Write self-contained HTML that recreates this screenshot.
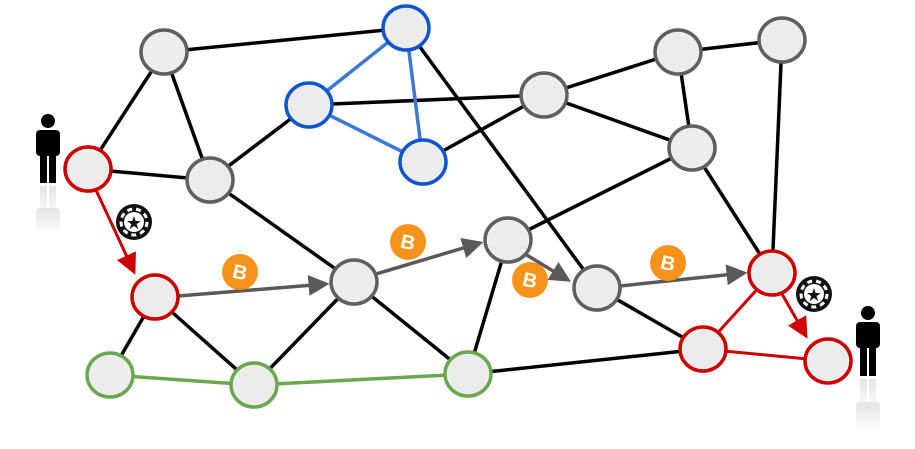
<!DOCTYPE html>
<html><head><style>body{margin:0;background:#fff}svg{display:block}</style></head><body>
<svg width="915" height="449" viewBox="0 0 915 449" xmlns="http://www.w3.org/2000/svg">
<defs>
<marker id="ag" markerWidth="6" markerHeight="6" refX="5" refY="3" orient="auto" markerUnits="strokeWidth"><path d="M0,0 L6,3 L0,6 z" fill="#595959"/></marker>
<marker id="ar" markerWidth="7" markerHeight="7" refX="6" refY="3.5" orient="auto" markerUnits="strokeWidth"><path d="M0,0 L7,3.5 L0,7 z" fill="#cc0000"/></marker>
<linearGradient id="refl" x1="0" y1="0" x2="0" y2="1"><stop offset="0" stop-color="#ddd"/><stop offset="1" stop-color="#fff"/></linearGradient>
</defs>
<g stroke="#000" stroke-width="3.5">
<line x1="164" y1="52" x2="406" y2="28"/>
<line x1="164" y1="52" x2="88" y2="169"/>
<line x1="164" y1="52" x2="210" y2="180"/>
<line x1="88" y1="169" x2="210" y2="180"/>
<line x1="210" y1="180" x2="309" y2="105"/>
<line x1="210" y1="180" x2="354" y2="282"/>
<line x1="406" y1="28" x2="597" y2="288"/>
<line x1="309" y1="105" x2="544" y2="95"/>
<line x1="423" y1="162" x2="544" y2="95"/>
<line x1="508" y1="240" x2="692" y2="148"/>
<line x1="544" y1="95" x2="678" y2="52"/>
<line x1="678" y1="52" x2="782" y2="40"/>
<line x1="544" y1="95" x2="692" y2="148"/>
<line x1="678" y1="52" x2="692" y2="148"/>
<line x1="782" y1="40" x2="772" y2="273"/>
<line x1="692" y1="148" x2="772" y2="273"/>
<line x1="155" y1="297" x2="110" y2="375"/>
<line x1="155" y1="297" x2="254" y2="385"/>
<line x1="354" y1="282" x2="254" y2="385"/>
<line x1="354" y1="282" x2="468" y2="374"/>
<line x1="508" y1="240" x2="468" y2="374"/>
<line x1="597" y1="288" x2="703" y2="349"/>
<line x1="703" y1="349" x2="468" y2="374"/>
</g>
<g stroke="#3a78d4" stroke-width="3.5">
<line x1="406" y1="28" x2="309" y2="105"/>
<line x1="406" y1="28" x2="423" y2="162"/>
<line x1="309" y1="105" x2="423" y2="162"/>
</g>
<g stroke="#6aa84f" stroke-width="3.5">
<line x1="110" y1="375" x2="254" y2="385"/>
<line x1="254" y1="385" x2="468" y2="374"/>
</g>
<g stroke="#cc0000" stroke-width="3">
<line x1="772" y1="273" x2="703" y2="349"/>
<line x1="703" y1="349" x2="828" y2="361"/>
<line x1="96" y1="190" x2="134" y2="272" marker-end="url(#ar)"/>
<line x1="782" y1="294" x2="806" y2="336" marker-end="url(#ar)"/>
</g>
<g stroke="#595959" stroke-width="3.5">
<line x1="178" y1="296" x2="326" y2="284" marker-end="url(#ag)"/>
<line x1="376" y1="274" x2="480" y2="243" marker-end="url(#ag)"/>
<line x1="525" y1="254" x2="568" y2="280" marker-end="url(#ag)"/>
<line x1="620" y1="286" x2="744" y2="273" marker-end="url(#ag)"/>
</g>
<g fill="#ececec" stroke-width="3.5">
<g stroke="#5f5f5f">
<ellipse cx="164" cy="52" rx="23" ry="22"/>
<ellipse cx="210" cy="180" rx="23" ry="22"/>
<ellipse cx="354" cy="282" rx="23" ry="22"/>
<ellipse cx="508" cy="240" rx="23" ry="22"/>
<ellipse cx="544" cy="95" rx="23" ry="22"/>
<ellipse cx="678" cy="52" rx="23" ry="22"/>
<ellipse cx="782" cy="40" rx="23" ry="22"/>
<ellipse cx="692" cy="148" rx="23" ry="22"/>
<ellipse cx="597" cy="288" rx="23" ry="22"/>
</g>
<g stroke="#1155cc">
<ellipse cx="406" cy="28" rx="23" ry="22"/>
<ellipse cx="309" cy="105" rx="23" ry="22"/>
<ellipse cx="423" cy="162" rx="23" ry="22"/>
</g>
<g stroke="#cc0000">
<ellipse cx="88" cy="169" rx="23" ry="22"/>
<ellipse cx="155" cy="297" rx="23" ry="22"/>
<ellipse cx="772" cy="273" rx="23" ry="22"/>
<ellipse cx="703" cy="349" rx="23" ry="22"/>
<ellipse cx="828" cy="361" rx="23" ry="22"/>
</g>
<g stroke="#6aa84f">
<ellipse cx="110" cy="375" rx="23" ry="22"/>
<ellipse cx="254" cy="385" rx="23" ry="22"/>
<ellipse cx="468" cy="374" rx="23" ry="22"/>
</g>
</g>
<g font-family="Liberation Sans, sans-serif" font-weight="bold" font-size="20" fill="#fff" text-anchor="middle">
<circle cx="240" cy="272" r="18" fill="#f7931a"/><text x="240" y="279" transform="rotate(12 240 272)">B</text>
<circle cx="408" cy="242" r="18" fill="#f7931a"/><text x="408" y="249" transform="rotate(12 408 242)">B</text>
<circle cx="530" cy="280" r="18" fill="#f7931a"/><text x="530" y="287" transform="rotate(12 530 280)">B</text>
<circle cx="668" cy="263" r="18" fill="#f7931a"/><text x="668" y="270" transform="rotate(12 668 263)">B</text>
</g>
<g>
<circle cx="134" cy="222" r="18" fill="#111"/>
<circle cx="134" cy="222" r="13" fill="none" stroke="#fff" stroke-width="3" stroke-dasharray="5 4"/>
<circle cx="134" cy="222" r="10" fill="#fff"/>
<text x="134" y="229" font-size="18" text-anchor="middle" fill="#111" font-family="DejaVu Sans, sans-serif">★</text>
<circle cx="814" cy="294" r="18" fill="#111"/>
<circle cx="814" cy="294" r="13" fill="none" stroke="#fff" stroke-width="3" stroke-dasharray="5 4"/>
<circle cx="814" cy="294" r="10" fill="#fff"/>
<text x="814" y="301" font-size="18" text-anchor="middle" fill="#111" font-family="DejaVu Sans, sans-serif">★</text>
</g>
<g fill="#000">
<circle cx="48" cy="121" r="7"/>
<rect x="36" y="130" width="24" height="26" rx="4"/>
<rect x="40" y="150" width="7" height="33"/>
<rect x="49" y="150" width="7" height="33"/>
</g>
<g fill="url(#refl)" opacity="0.8">
<rect x="40" y="186" width="7" height="30"/><rect x="49" y="186" width="7" height="30"/>
<rect x="36" y="208" width="24" height="26" rx="4"/>
</g>
<g fill="#000">
<circle cx="868" cy="313" r="7"/>
<rect x="856" y="322" width="24" height="26" rx="4"/>
<rect x="860" y="342" width="7" height="34"/>
<rect x="869" y="342" width="7" height="34"/>
</g>
<g fill="url(#refl)" opacity="0.8">
<rect x="860" y="379" width="7" height="30"/><rect x="869" y="379" width="7" height="30"/>
<rect x="856" y="402" width="24" height="30" rx="4"/>
</g>
</svg>
</body></html>
